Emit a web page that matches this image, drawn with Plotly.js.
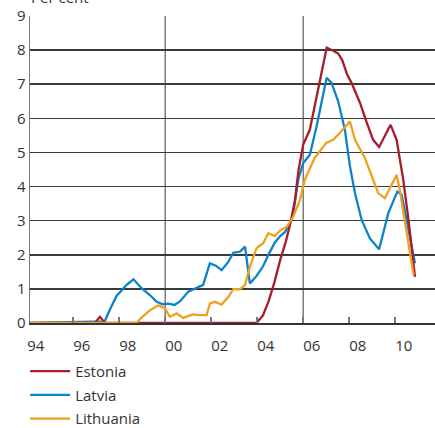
<!DOCTYPE html>
<html>
<head>
<meta charset="utf-8">
<script src="https://cdn.plot.ly/plotly-3.0.1.min.js"></script>
<style>html,body{margin:0;padding:0;background:#fff;}#chart{width:435px;height:428px;}</style>
</head>
<body>
<div id="chart"></div>
<script>
// Data (decimal years, per cent)
const estoniaX = [1994.12,1996.94,1997.16,1997.38,2003.97,2004.25,2004.5,2004.75,2005.0,2005.25,2005.45,2005.64,2005.8,2006.0,2006.29,2006.58,2006.8,2007.02,2007.3,2007.52,2007.7,2007.9,2008.1,2008.47,2008.75,2009.04,2009.3,2009.55,2009.8,2010.06,2010.35,2010.6,2010.86];
const estoniaY = [0,0,0.18,0,0,0.22,0.65,1.2,1.85,2.4,2.95,3.6,4.5,5.23,5.67,6.65,7.4,8.07,7.98,7.9,7.7,7.3,7.04,6.45,5.9,5.37,5.16,5.5,5.81,5.37,4.2,2.9,1.35];

const latviaX = [1994.12,1997.37,1997.6,1997.89,1998.1,1998.32,1998.62,1998.97,1999.33,1999.63,1999.9,2000.15,2000.4,2000.65,2001.0,2001.3,2001.65,2001.94,2002.2,2002.45,2002.74,2002.96,2003.25,2003.47,2003.68,2003.97,2004.26,2004.5,2004.77,2005.0,2005.2,2005.42,2005.57,2005.78,2006.0,2006.29,2006.58,2007.02,2007.23,2007.52,2007.81,2008.03,2008.25,2008.54,2008.9,2009.3,2009.7,2010.09,2010.28,2010.86];
const latviaY = [0,0.05,0.4,0.8,0.95,1.12,1.28,1.02,0.82,0.62,0.55,0.57,0.53,0.64,0.92,1.02,1.12,1.75,1.68,1.55,1.79,2.06,2.09,2.24,1.16,1.38,1.67,2.02,2.36,2.55,2.66,2.92,3.22,4.2,4.69,4.93,5.76,7.19,7.04,6.5,5.67,4.6,3.81,3.02,2.48,2.16,3.22,3.85,3.76,1.75];

const lithuaniaX = [1994.12,1998.75,1998.97,1999.33,1999.7,2000.0,2000.2,2000.5,2000.78,2001.2,2001.5,2001.8,2001.94,2002.16,2002.45,2002.74,2002.96,2003.25,2003.47,2003.68,2003.97,2004.26,2004.48,2004.77,2004.99,2005.28,2005.57,2005.86,2006.07,2006.5,2007.0,2007.3,2007.59,2008.03,2008.25,2008.68,2009.04,2009.26,2009.55,2010.06,2010.2,2010.8];
const lithuaniaY = [0,0,0.16,0.37,0.52,0.42,0.18,0.28,0.15,0.25,0.23,0.23,0.57,0.62,0.54,0.76,0.99,0.99,1.11,1.65,2.19,2.34,2.63,2.55,2.71,2.82,3.12,3.61,4.2,4.84,5.28,5.37,5.57,5.91,5.37,4.84,4.2,3.81,3.66,4.34,3.9,1.4];

const tickYears = [1996,1998,2000,2002,2004,2006,2008,2010];
const labelYears = [1994,1996,1998,2000,2002,2004,2006,2008,2010];
const labelText = ['94','96','98','00','02','04','06','08','10'];
const gridYears = [2000,2006];

const FONT = 'Open Sans, Noto Sans, sans-serif';
const TXT = '#333333';
const XR = [1994.12, 2011.73];

// drawn order: Latvia, Estonia, Lithuania (on top); legend order by legendrank
const traces = [
  {x: latviaX, y: latviaY, name: 'Latvia', type: 'scatter', mode: 'lines', legendrank: 2,
   legendgroup: 'b', line: {color: '#0c83c8', width: 2.3}},
  {x: estoniaX, y: estoniaY, name: 'Estonia', type: 'scatter', mode: 'lines', legendrank: 1,
   legendgroup: 'a', line: {color: '#a61d2d', width: 2.3}},
  {x: lithuaniaX, y: lithuaniaY, name: 'Lithuania', type: 'scatter', mode: 'lines', legendrank: 3,
   legendgroup: 'c', line: {color: '#eea020', width: 2.3}},
  // empty helper so the label axis (x2) exists; draws nothing
  {x: labelYears, y: labelYears.map(() => null), xaxis: 'x2', type: 'scatter', mode: 'lines',
   showlegend: false, hoverinfo: 'skip'}
];

const layout = {
  width: 435, height: 428,
  margin: {l: 30, r: 0, t: 16, b: 105, pad: 0, autoexpand: false},
  paper_bgcolor: '#ffffff', plot_bgcolor: '#ffffff',
  font: {family: FONT, size: 15, color: TXT},
  showlegend: true,
  legend: {orientation: 'v', x: -0.012, xanchor: 'left', y: -0.104, yanchor: 'top',
           font: {family: FONT, size: 15, color: TXT}, itemwidth: 40,
           traceorder: 'grouped', tracegroupgap: 1.2,
           bgcolor: 'rgba(0,0,0,0)'},
  xaxis: {range: XR, tickmode: 'array', tickvals: tickYears, showticklabels: false,
          ticks: 'inside', ticklen: 6, tickwidth: 1.5, tickcolor: '#777777',
          showgrid: false, zeroline: false, showline: true, linecolor: '#333333', linewidth: 2,
          fixedrange: true},
  xaxis2: {range: XR, overlaying: 'x', side: 'bottom', anchor: 'y', tickmode: 'array',
           tickvals: labelYears.map(v => v + 0.37), ticktext: labelText, ticks: '',
           ticklabelstandoff: 12,
           showgrid: false, zeroline: false, showline: false,
           tickfont: {family: FONT, size: 15, color: TXT}, fixedrange: true},
  yaxis: {range: [0, 9], tickmode: 'linear', tick0: 0, dtick: 1, ticks: '',
          showgrid: true, gridcolor: '#3a3a3a', gridwidth: 1.6, zeroline: false,
          showline: true, linecolor: '#7a7a7a', linewidth: 1.5,
          tickfont: {family: FONT, size: 15, color: TXT}, fixedrange: true},
  shapes: gridYears.map(g => ({type: 'line', xref: 'x', yref: 'paper', x0: g, x1: g, y0: 0, y1: 1,
           line: {color: '#7a7a7a', width: 1.5}, layer: 'below'})),
  annotations: [{text: 'Per cent', xref: 'paper', yref: 'paper', x: -0.002, y: 1.022,
                 xanchor: 'left', yanchor: 'bottom', showarrow: false,
                 font: {family: FONT, size: 15, color: TXT}}]
};

Plotly.newPlot('chart', traces, layout, {displayModeBar: false, staticPlot: true});
</script>
</body>
</html>
